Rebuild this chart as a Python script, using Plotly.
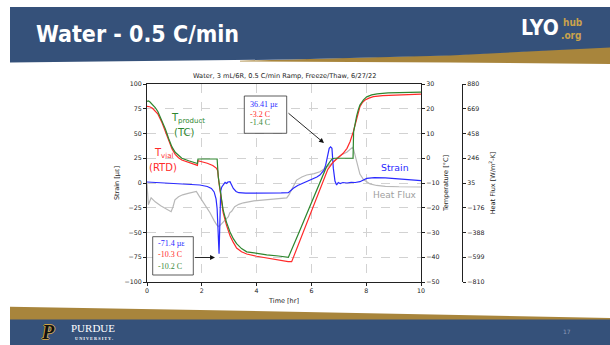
import plotly.graph_objects as go

W, H = 610, 345


def px(x):
    return x / W


def py(y):
    return 1 - y / H


# ---------------- data ----------------
time_vial = [0, 0.1, 0.2, 0.3, 0.4, 0.55, 0.67, 0.79, 0.91, 1.03, 1.15, 1.27, 1.52, 1.76, 1.84,
             1.86, 2.0, 2.2, 2.4, 2.54, 2.58, 2.6, 2.63, 2.7, 2.78, 2.9, 3.03, 3.15, 3.27, 3.45,
             3.64, 4.0, 4.37, 4.8, 5.15, 5.28, 5.6, 6.0, 6.43, 6.6, 6.8, 7.0, 7.16, 7.3, 7.41,
             7.53, 7.65, 7.77, 7.87, 7.96, 8.1, 8.26, 8.6, 9.23, 10]
temp_vial = [21.0, 20.8, 20.2, 19.2, 17.8, 14.3, 10.8, 7.2, 3.8, 1.6, 0.2, -0.7, -1.8, -2.7, -2.9,
             -1.0, -1.3, -2.0, -2.9, -4.1, -5.0, -8.8, -10.3, -15.5, -22.0, -27.0, -31.3, -34.0, -36.3, -37.8,
             -38.7, -39.6, -40.4, -41.2, -41.8, -41.8, -32.6, -21.1, -8.8, -4.5, -1.5, 0.3, 2.0, 4.0, 6.7,
             10.7, 16.1, 20.8, 22.6, 23.5, 24.3, 24.9, 25.3, 25.6, 25.9]

time_product = [0, 0.05, 0.1, 0.2, 0.3, 0.4, 0.55, 0.67, 0.79, 0.91, 1.03, 1.15, 1.27, 1.52, 1.76,
                1.84, 1.86, 2.2, 2.56, 2.6, 2.63, 2.7, 2.78, 2.9, 3.03, 3.15, 3.27, 3.45, 3.64, 4.0,
                4.37, 4.8, 5.16, 5.5, 6.0, 6.37, 6.55, 6.68, 6.76, 6.85, 7.2, 7.52, 7.54, 7.6, 7.65,
                7.71, 7.77, 7.9, 8.02, 8.2, 8.4, 8.8, 9.5, 10]
temp_product = [23.0, 23.2, 22.8, 21.8, 20.5, 18.8, 15.3, 11.8, 8.0, 4.6, 2.4, 1.0, 0.0, -1.0, -1.9,
                -2.1, -0.3, -0.3, -0.3, -7.5, -10.2, -15.0, -21.0, -25.8, -29.8, -32.5, -34.5, -36.5, -37.8, -38.5,
                -39.0, -39.5, -40.0, -31.2, -18.3, -8.8, -3.5, -1.4, -0.2, 0.0, 0.0, 0.0, 10.7, 14.5, 17.0,
                19.5, 21.5, 23.6, 24.8, 25.6, 26.0, 26.4, 26.6, 26.7]

time_strain = [0, 0.3, 0.7, 1.1, 1.5, 1.93, 2.2, 2.35, 2.45, 2.52, 2.56, 2.6, 2.63, 2.66, 2.69,
               2.73, 2.8, 2.85, 2.9, 2.95, 3.03, 3.08, 3.15, 3.25, 3.35, 3.6, 4.0, 4.5, 4.9, 5.16,
               5.25, 5.34, 5.5, 5.83, 6.0, 6.2, 6.31, 6.46, 6.52, 6.6, 6.65, 6.7, 6.75, 6.8, 6.86,
               6.92, 6.98, 7.05, 7.15, 7.3, 7.45, 7.6, 7.77, 8.02, 8.3, 8.7, 9.2, 9.7, 10]
strain = [1.0, 0.5, -0.3, -1.0, -1.5, -2.0, -3.5, -5.5, -9.0, -16.0, -26.0, -45.0, -71.4, -40.0, -8.0,
          -4.0, -1.5, 0.7, -0.5, 1.0, 1.3, -2.0, -5.5, -8.5, -9.8, -10.2, -10.3, -10.2, -10.0, -9.8,
          -7.5, -5.4, -2.5, 1.3, 3.5, 6.0, 8.0, 13.0, 18.0, 30.0, 35.0, 36.41, 35.0, 15.0, 2.0,
          -2.0, 0.5, -0.5, 0.5, 0.0, 0.7, 0.5, 1.3, 4.7, 5.4, 5.2, 4.3, 3.3, 2.5]

time_flux = [0, 0.05, 0.15, 0.3, 0.5, 0.7, 0.88, 0.95, 1.02, 1.15, 1.3, 1.5, 1.7, 1.8, 1.9,
             2.0, 2.15, 2.3, 2.45, 2.55, 2.62, 2.7, 2.85, 2.97, 3.02, 3.09, 3.2, 3.35, 3.52, 3.9,
             4.37, 4.8, 5.1, 5.18, 5.28, 5.4, 5.46, 5.65, 5.83, 6.1, 6.31, 6.56, 6.8, 6.92, 7.1,
             7.29, 7.42, 7.5, 7.54, 7.6, 7.65, 7.71, 7.77, 7.9, 8.02, 8.14, 8.38, 8.7, 9.2, 10]
heat_flux = [27, -151, -92, -126, -159, -185, -210, -168, -109, -83, -66, -54, -41, -37, -75,
             -109, -159, -219, -286, -324, -337, -320, -282, -252, -219, -206, -168, -147, -134, -117,
             -109, -100, -92, -66, -16, 35, 60, 86, 103, 115, 131, 170, 212, 246, 276,
             297, 322, 339, 322, 263, 212, 153, 111, 65, 43, 27, 14, 7, 3, 1]

time_ticks = [0, 2, 4, 6, 8, 10]
strain_ticks = [-100, -75, -50, -25, 0, 25, 50, 75, 100]
temp_ticks = [-50, -40, -30, -20, -10, 0, 10, 20, 30]
flux_ticks = [-810, -599, -388, -176, 35, 246, 458, 669, 880]
flux_labels = ["\u2212810", "\u2212599", "\u2212388", "\u2212176", "35", "246", "458", "669", "880"]

peak_note = ["36.41 \u00b5\u03b5", "-3.2 C", "-1.4 C"]
dip_note = ["-71.4 \u00b5\u03b5", "-10.3 C", "-10.2 C"]
note_colors = ["#2a2aff", "#ff2a2a", "#3a8a3a"]

BLUE = "#2a2aff"
RED = "#ff2a2a"
GREEN = "#2e862e"
GRAY = "#b8b8b8"
SLIDE_BLUE = "#35517a"
GOLD = "#a8853c"
TXT = "#222222"
CF = "DejaVu Sans"
NARROW = "DejaVu Sans Condensed, Liberation Sans Narrow, Arial Narrow, sans-serif"

fig = go.Figure()
# main (bottom) layer: heat flux on its own free axis
fig.add_trace(go.Scatter(x=time_flux, y=heat_flux, mode="lines", yaxis="y",
                         line=dict(color=GRAY, width=1.2), hoverinfo="skip"))
fig.add_trace(go.Scatter(x=time_strain, y=strain, mode="lines", yaxis="y2",
                         line=dict(color=BLUE, width=1.2), hoverinfo="skip"))
fig.add_trace(go.Scatter(x=time_vial, y=temp_vial, mode="lines", yaxis="y3",
                         line=dict(color=RED, width=1.2), hoverinfo="skip"))
fig.add_trace(go.Scatter(x=time_product, y=temp_product, mode="lines", yaxis="y3",
                         line=dict(color=GREEN, width=1.2), hoverinfo="skip"))

dom_x = [px(147), px(421)]
dom_y = [py(282), py(84)]
tickfont = dict(family=CF, size=6.3, color=TXT)
titlefont = dict(family=CF, size=6.5, color=TXT)

shapes = []
# ---------------- slide decoration ----------------
shapes.append(dict(type="path", xref="paper", yref="paper", layer="below",
                   path=f"M {px(240)},{py(60.8)} L {px(450)},{py(55)} L {px(610)},{py(46.5)} "
                        f"L {px(610)},{py(64)} L {px(450)},{py(62.5)} L {px(240)},{py(61.5)} Z",
                   fillcolor=GOLD, line=dict(width=0)))
shapes.append(dict(type="path", xref="paper", yref="paper", layer="below",
                   path=f"M {px(10)},{py(7)} L {px(610)},{py(7)} L {px(610)},{py(47.5)} "
                        f"L {px(450)},{py(55.5)} L {px(290)},{py(59.5)} L {px(10)},{py(62.5)} Z",
                   fillcolor=SLIDE_BLUE, line=dict(width=0)))
shapes.append(dict(type="path", xref="paper", yref="paper", layer="below",
                   path=f"M {px(10)},{py(306.7)} L {px(200)},{py(310)} L {px(610)},{py(318)} "
                        f"L {px(610)},{py(320)} L {px(10)},{py(320)} Z",
                   fillcolor=GOLD, line=dict(width=0)))
shapes.append(dict(type="rect", xref="paper", yref="paper", layer="below",
                   x0=px(10), x1=px(610), y0=py(345), y1=py(319.5),
                   fillcolor=SLIDE_BLUE, line=dict(width=0)))
# annotation boxes
shapes.append(dict(type="rect", xref="paper", yref="paper",
                   x0=px(244.3), x1=px(286.7), y0=py(133.3), y1=py(96),
                   fillcolor="white", line=dict(color="#333333", width=0.8)))
shapes.append(dict(type="rect", xref="paper", yref="paper",
                   x0=px(152.7), x1=px(193.3), y0=py(275), y1=py(236.7),
                   fillcolor="white", line=dict(color="#333333", width=0.8)))

ann = []


def text(x, y, s, size, color, family=CF, xanchor="center", yanchor="middle", angle=0, shadow=None):
    f = dict(family=family, size=size, color=color)
    if shadow:
        f["shadow"] = shadow
    ann.append(dict(x=px(x), y=py(y), xref="paper", yref="paper", text=s, showarrow=False,
                    xanchor=xanchor, yanchor=yanchor, textangle=angle, font=f))


# slide texts
text(34, 34, "<b>Water - 0.5 C/min</b>", 23, "white", family=NARROW, xanchor="left")
text(519, 28, "<b>LYO</b>", 21, "white", family=NARROW, xanchor="left")
text(561, 22.5, "<b>hub</b>", 10, "#c9a24c", xanchor="left", family=NARROW)
text(559, 35, "<b>.org</b>", 10, "#c9a24c", xanchor="left", family=NARROW)
text(48, 331.5, "<b><i>P</i></b>", 20, "#111111", family="Liberation Serif",
     shadow="1px 0 0 #c9a24c, -1px 0 0 #c9a24c, 0 1px 0 #c9a24c, 0 -1px 0 #c9a24c")
text(93, 328, "PURDUE", 11, "white", family="Liberation Serif")
text(94, 338, "<b>U N I V E R S I T Y .</b>", 4.3, "white", family="Liberation Serif")
text(567, 331, "17", 6, "#8a9bb8")

# chart texts
text(284, 76, "Water, 3 mL/6R, 0.5 C/min Ramp, Freeze/Thaw, 6/27/22", 6.6, TXT)
text(169, 118.5, "T<sub>product</sub>", 10, GREEN, xanchor="left")
text(172, 132, "(TC)", 10, GREEN, xanchor="left")
text(152, 153.5, "T<sub>vial</sub>", 10, RED, xanchor="left")
text(147, 167, "(RTD)", 10, RED, xanchor="left")
text(395, 167.3, "Strain", 9.3, BLUE)
text(395.3, 195, "Heat Flux", 9, "#a0a0a0")

for s, yy, c in zip(peak_note, [104.5, 114, 123], note_colors):
    text(248, yy, s, 8, c, family="Liberation Serif", xanchor="left")
for s, yy, c in zip(dip_note, [243.5, 255, 266.7], note_colors):
    text(156, yy, s, 8, c, family="Liberation Serif", xanchor="left")

# arrows
ann.append(dict(x=px(324), y=py(143), xref="paper", yref="paper", text="", showarrow=True,
                ax=287 - 324, ay=112 - 143, arrowhead=2, arrowsize=1.1, arrowwidth=0.9,
                arrowcolor="#111111"))
ann.append(dict(x=px(215), y=py(257.5), xref="paper", yref="paper", text="", showarrow=True,
                ax=193.3 - 215, ay=0, arrowhead=2, arrowsize=1.1, arrowwidth=0.9,
                arrowcolor="#111111"))

axis_common = dict(showline=True, linecolor="#222222", linewidth=0.8, ticks="outside",
                   ticklen=3, tickwidth=0.8, tickcolor="#222222", tickfont=tickfont,
                   zeroline=False, automargin=False)
grid = dict(showgrid=True, gridcolor="#d2d2d2", gridwidth=0.6, griddash="dash")

fig.update_layout(
    width=W, height=H, template="none",
    margin=dict(l=0, r=0, t=0, b=0), showlegend=False,
    paper_bgcolor="white", plot_bgcolor="white",
    font=dict(family=CF, color=TXT),
    xaxis=dict(domain=dom_x, range=[0, 10], tickvals=time_ticks, anchor="y", mirror=True,
               title=dict(text="Time [hr]", font=titlefont, standoff=4), **grid, **axis_common),
    yaxis=dict(domain=dom_y, range=[-810, 880], tickvals=flux_ticks, ticktext=flux_labels,
               anchor="free", position=px(462), side="right", showgrid=False,
               title=dict(text="Heat Flux [W/m<sup>2</sup>-K]", font=titlefont, standoff=6),
               **axis_common),
    yaxis2=dict(range=[-100, 100], tickvals=strain_ticks, overlaying="y", anchor="x", side="left",
                mirror=True, title=dict(text="Strain [\u00b5\u03b5]", font=titlefont, standoff=4),
                **grid, **axis_common),
    yaxis3=dict(range=[-50, 30], tickvals=temp_ticks, overlaying="y", anchor="x", side="right",
                showgrid=False,
                title=dict(text="Temperature [\u00b0C]", font=titlefont, standoff=4), **axis_common),
    shapes=shapes, annotations=ann,
)

fig.write_html("out.html", config={"displayModeBar": False},
               post_script="document.body.style.margin='0';document.body.style.overflow='hidden';")
